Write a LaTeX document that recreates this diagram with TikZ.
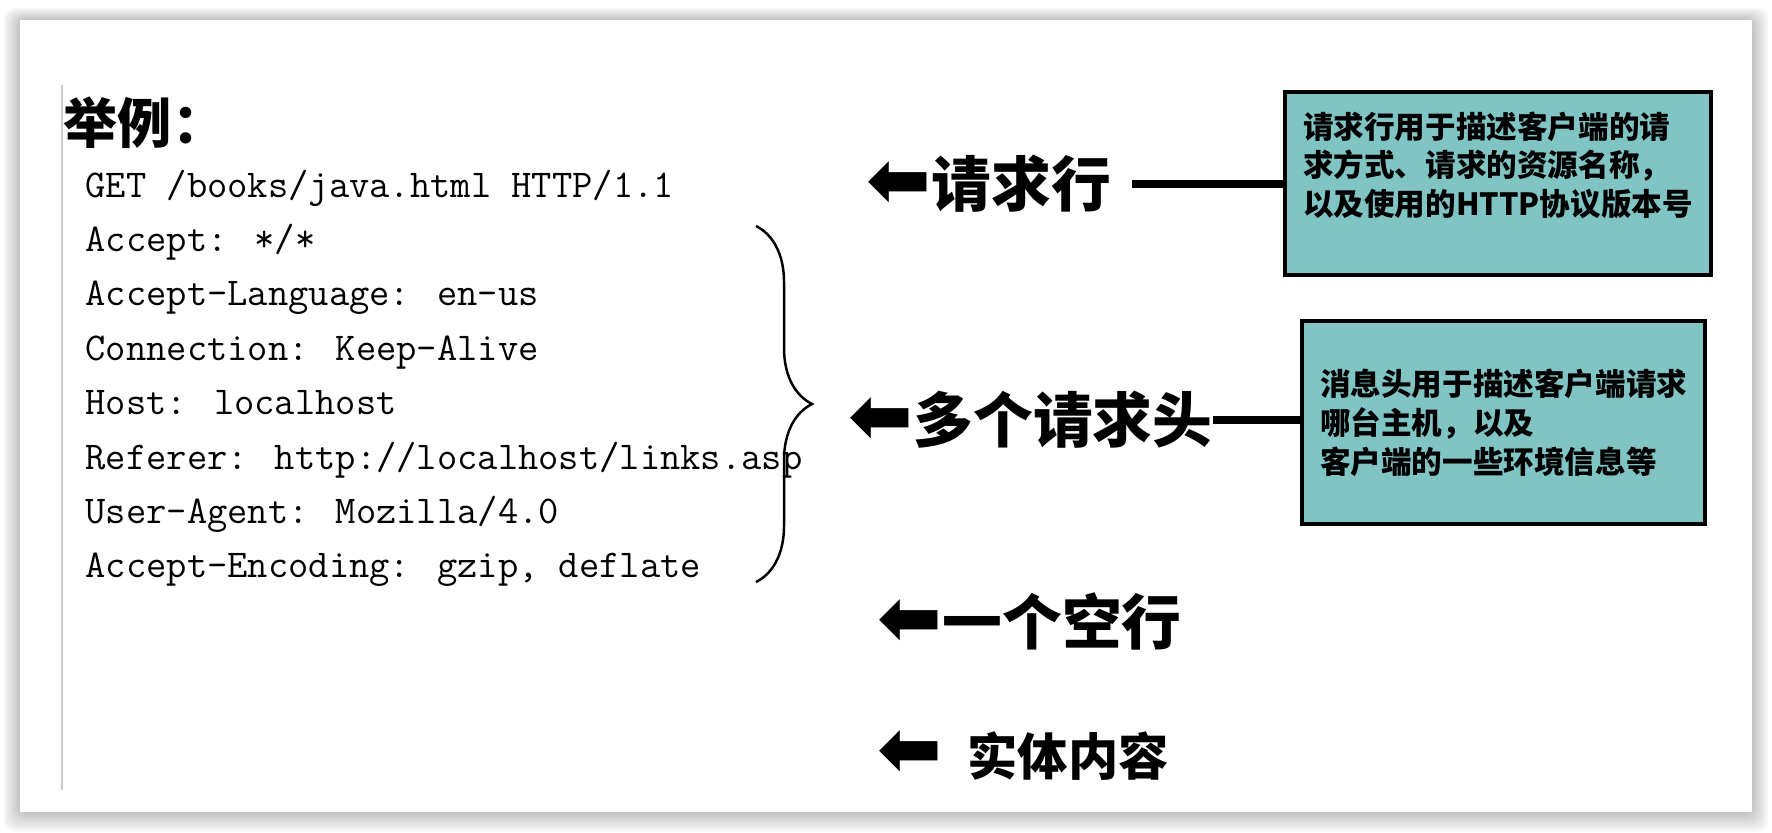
\documentclass[tikz,border=0pt]{standalone}
\usepackage{fontspec}
\newfontfamily\cjk{Noto Sans CJK SC}
\newfontfamily\arrowfont{DejaVu Sans}
\newcommand{\larr}{{\arrowfont\fontsize{22}{20}\selectfont ⬅}}
\usetikzlibrary{positioning, decorations.pathreplacing}
\definecolor{boxteal}{RGB}{128,196,196}

\begin{document}
\begin{tikzpicture}[x=0.01cm, y=-0.01cm,
        lbl/.style={inner sep=0pt, anchor=west, font=\cjk\bfseries\fontsize{17}{20}\selectfont},
        codeline/.style={inner sep=0pt, anchor=base west, font=\ttfamily\fontsize{11.2}{14}\selectfont},
        infobox/.style={draw, line width=1.2pt, fill=boxteal, anchor=north west, align=left,
                      inner xsep=0.18cm, font=\cjk\bfseries\fontsize{8.7}{11}\selectfont},
        link/.style={line width=2.3pt},
      ]
        \useasboundingbox (0,0) rectangle (1772,832);
        % card and its shadow
        \foreach \k in {1,...,8}
          \fill[black, opacity=0.03, rounded corners=3] (20-\k*2,20-\k*1.5) rectangle (1752+\k*2,812+\k*2.5);
        \fill[white] (20,20) rectangle (1752,812);
        \draw[black!20, line width=0.8pt] (62,85) -- (62,790);

        \node[lbl, font=\cjk\bfseries\fontsize{15.4}{18}\selectfont] (example) at (63,123) {举例：};

        \foreach \txt [count=\i] in {GET /books/java.html HTTP/1.1, Accept: */*,
            Accept-Language: en-us, Connection: Keep-Alive, Host: localhost,
            Referer: http://localhost/links.asp, User-Agent: Mozilla/4.0,
            {Accept-Encoding: gzip, deflate}}
          \node[codeline] (l\i) at (85,{197+(\i-1)*54.4}) {\txt};

        \coordinate (brtop) at (756,226);
        \coordinate (brbot) at (756,582);
        \draw[line width=0.7pt, decorate, decoration={brace, amplitude=0.56cm}] (brtop) -- (brbot);

        \node[lbl] (reqline) at (866,184) {\larr 请求行};
        \node[lbl] (headers) at (848,420) {\larr 多个请求头};
        \node[lbl] (blank) at (877,621) {\larr 一个空行};
        \node[lbl] (body) at (877,755) {\larr\hspace{0.25cm}{\fontsize{14.3}{17}\selectfont 实体内容}};

        \node[infobox, minimum width=4.14cm, minimum height=1.83cm, text depth=0.4cm] (linebox) at (1283,90)
          {请求行用于描述客户端的请\\求方式、请求的资源名称，\\以及使用的HTTP协议版本号};
        \node[infobox, minimum width=3.95cm, minimum height=2.03cm] (headbox) at (1300,319)
          {消息头用于描述客户端请求\\哪台主机，以及\\客户端的一些环境信息等};

        \draw[link, shorten <=0.2cm] (reqline.east) -- (reqline.east -| linebox.west);
        \draw[link] (headers.east) -- (headers.east -| headbox.west);
      \end{tikzpicture}
\end{document}
